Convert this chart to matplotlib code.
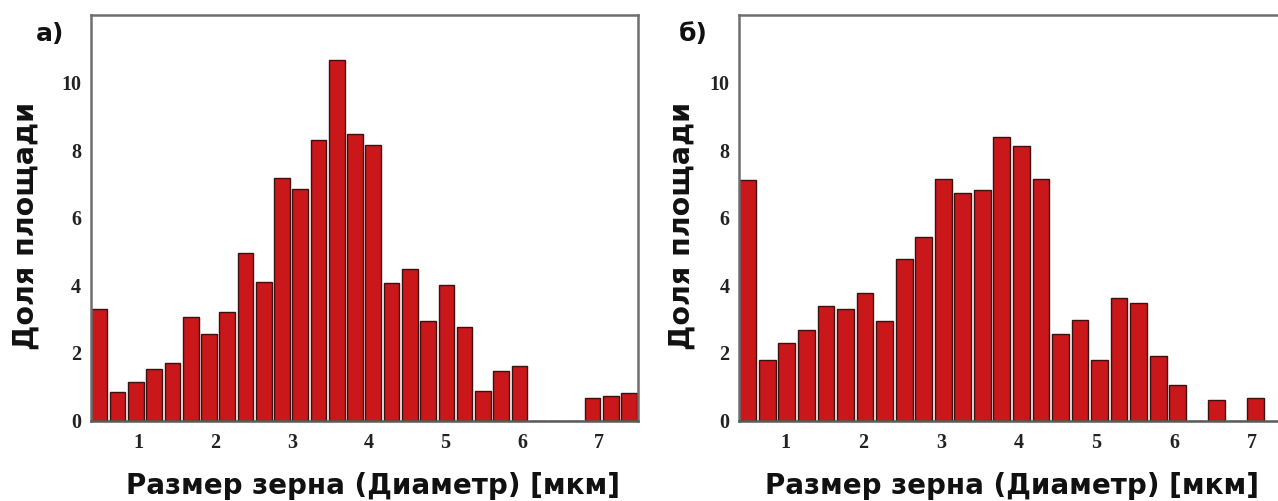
import matplotlib
matplotlib.use("Agg")
import matplotlib.pyplot as plt
import numpy as np

# Grain size distributions (area fraction per diameter bin)
bins_a_start = 0.486
bins_a_step = 0.2382
area_a = [3.31, 0.84, 1.15, 1.51, 1.69, 3.05, 2.55, 3.22, 4.97, 4.11,
          7.17, 6.86, 8.31, 10.68, 8.47, 8.15, 4.07, 4.47, 2.95, 4.02,
          2.77, 0.88, 1.47, 1.60, 0.0, 0.0, 0.0, 0.68, 0.73, 0.82]

bins_b_start = 0.512
bins_b_step = 0.2515
area_b = [7.13, 1.78, 2.30, 2.67, 3.40, 3.29, 3.77, 2.94, 4.79, 5.43,
          7.16, 6.72, 6.83, 8.40, 8.12, 7.15, 2.56, 2.96, 1.80, 3.62,
          3.47, 1.90, 1.06, 0.0, 0.62, 0.0, 0.68]

x_ticks = [1, 2, 3, 4, 5, 6, 7]
y_ticks = [0, 2, 4, 6, 8, 10]
panel_labels = ["а)", "б)"]
x_label = "Размер зерна (Диаметр) [мкм]"
y_label = "Доля площади"

BAR_FACE = "#c9171a"
BAR_EDGE = "#3d1010"
SPINE = "#5a5a5a"

W, H = 1278, 501
fig = plt.figure(figsize=(W / 100, H / 100), dpi=100)


def px_axes(x0, x1, y_top, y_bottom):
    return fig.add_axes([x0 / W, 1 - y_bottom / H, (x1 - x0) / W, (y_bottom - y_top) / H])


def draw_panel(ax, start, step, values, xlim):
    centers = start + step * np.arange(len(values))
    ax.bar(centers, values, width=step * 0.86, color=BAR_FACE,
           edgecolor=BAR_EDGE, linewidth=1.0, zorder=2)
    ax.set_xlim(*xlim)
    ax.set_ylim(0, 12)
    ax.set_xticks(x_ticks)
    ax.set_yticks(y_ticks)
    for lbl in ax.get_xticklabels() + ax.get_yticklabels():
        lbl.set_fontfamily("Liberation Serif")
        lbl.set_fontweight("bold")
        lbl.set_fontsize(14.5)
        lbl.set_color("#222222")
    ax.tick_params(axis="x", length=0, pad=9)
    ax.tick_params(axis="y", length=0, pad=7)
    for side in ("top", "left", "right"):
        ax.spines[side].set_color("#6e6e6e")
        ax.spines[side].set_linewidth(1.8)
    ax.spines["bottom"].set_color(SPINE)
    ax.spines["bottom"].set_linewidth(1.8)


ax_a = px_axes(90.6, 637.6, 15, 420.5)
draw_panel(ax_a, bins_a_start, bins_a_step, area_a, (0.372, 7.506))

# right frame runs off the canvas edge
ax_b = px_axes(739, 1290, 15, 420.5)
draw_panel(ax_b, bins_b_start, bins_b_step, area_b, (0.399, 7.49))

label_font = dict(family="DejaVu Sans", fontweight="bold", color="#111111")
for cx in (373, 1012):
    fig.text(cx / W, 1 - 486 / H, x_label, ha="center", va="center",
             fontsize=20, **label_font)
for cx in (26, 682):
    fig.text(cx / W, 1 - 226 / H, y_label, ha="center", va="center",
             rotation=90, fontsize=20.5, **label_font)
for (lx, ly), text in zip([(36, 34), (679, 34)], panel_labels):
    fig.text(lx / W, 1 - ly / H, text, ha="left", va="center",
             fontsize=18, **label_font)

fig.savefig("out.png", dpi=100, facecolor="white")
